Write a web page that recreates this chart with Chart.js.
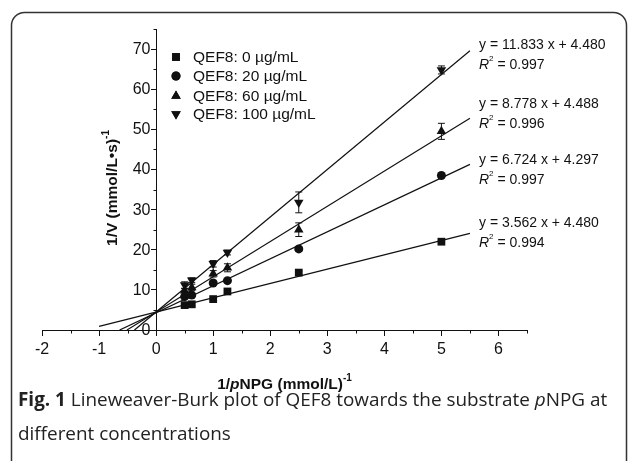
<!DOCTYPE html>
<html>
<head>
<meta charset="utf-8">
<script src="https://cdn.jsdelivr.net/npm/chart.js@4.4.0/dist/chart.umd.min.js"></script>
<style>
    html, body { margin: 0; padding: 0; background: #fff; }
    canvas { display: block; }
</style>
</head>
<body>
<canvas id="lbChart" width="628" height="461"></canvas>
<script>
const invSubstrate = [0.5, 0.625, 1, 1.25, 2.5, 5];

const seriesLabels = ["QEF8: 0 µg/mL", "QEF8: 20 µg/mL", "QEF8: 60 µg/mL", "QEF8: 100 µg/mL"];

const invV0 = [6.2, 6.4, 7.7, 9.6, 14.3, 22.0];
const invV20 = [8.3, 8.7, 11.7, 12.3, 20.2, 38.5];
const invV60 = [9.8, 10.6, 14.0, 15.5, 25.0, 49.5];
const invV100 = [11.2, 12.4, 16.5, 19.3, 31.8, 64.8];

const err0 = [0.3, 0.3, 0.3, 0.3, 0.4, 0.4];
const err20 = [0.4, 0.4, 0.5, 0.4, 0.5, 0.5];
const err60 = [0.5, 0.8, 0.8, 1.0, 1.7, 2.0];
const err100 = [0.8, 0.6, 0.8, 0.6, 2.6, 1.0];

// fitted lines (from the printed equations)
const slopes = [3.562, 6.724, 8.778, 11.833];
const intercepts = [4.480, 4.297, 4.488, 4.480];
const rSquared = ["0.994", "0.997", "0.996", "0.997"];
const fitStart = [-1, -0.64, -0.51, -0.38];
const fitEnd = 5.5;

const allV = [invV0, invV20, invV60, invV100];
const allErr = [err0, err20, err60, err100];
const markerStyles = ["rect", "circle", "triangle", "triangle"];
const markerRotation = [0, 0, 0, 180];
const markerRadius = [5.5, 4.5, 5.5, 5.5];

const SANS = "'Liberation Sans', Arial, sans-serif";
const INK = "#111";

function toPoints(ys) {
    return invSubstrate.map((x, i) => ({ x: x, y: ys[i] }));
}

function fitLine(i) {
    return [
        { x: fitStart[i], y: slopes[i] * fitStart[i] + intercepts[i] },
        { x: fitEnd, y: slopes[i] * fitEnd + intercepts[i] }
    ];
}

const datasets = [];
for (let i = 0; i < 4; i++) {
    datasets.push({
        type: "line",
        label: "fit " + i,
        data: fitLine(i),
        borderColor: INK,
        borderWidth: 1.2,
        pointRadius: 0,
        showLine: true,
        fill: false
    });
}
for (let i = 0; i < 4; i++) {
    datasets.push({
        type: "scatter",
        label: seriesLabels[i],
        data: toPoints(allV[i]),
        errors: allErr[i],
        pointStyle: markerStyles[i],
        rotation: markerRotation[i],
        radius: markerRadius[i],
        pointRadius: markerRadius[i],
        backgroundColor: INK,
        borderColor: INK,
        borderWidth: 0
    });
}

// draw text made of several runs (for italics / superscripts)
function runsWidth(ctx, runs) {
    let w = 0;
    runs.forEach(r => { ctx.font = r.font; w += ctx.measureText(r.text).width; });
    return w;
}
function drawRuns(ctx, runs, x, y, align) {
    let cx = x;
    if (align === "center") cx = x - runsWidth(ctx, runs) / 2;
    ctx.textAlign = "left";
    ctx.textBaseline = "alphabetic";
    runs.forEach(r => {
        ctx.font = r.font;
        ctx.fillText(r.text, cx, y + (r.dy || 0));
        cx += ctx.measureText(r.text).width;
    });
}

const errorBars = {
    id: "errorBars",
    afterDatasetsDraw(chart) {
        const ctx = chart.ctx;
        const ys = chart.scales.y;
        ctx.save();
        ctx.strokeStyle = INK;
        ctx.lineWidth = 1;
        chart.data.datasets.forEach((ds, di) => {
            if (!ds.errors) return;
            const meta = chart.getDatasetMeta(di);
            meta.data.forEach((pt, j) => {
                const v = ds.data[j].y;
                const top = ys.getPixelForValue(v + ds.errors[j]);
                const bot = ys.getPixelForValue(v - ds.errors[j]);
                ctx.beginPath();
                ctx.moveTo(pt.x, top); ctx.lineTo(pt.x, bot);
                ctx.moveTo(pt.x - 3.5, top); ctx.lineTo(pt.x + 3.5, top);
                ctx.moveTo(pt.x - 3.5, bot); ctx.lineTo(pt.x + 3.5, bot);
                ctx.stroke();
            });
        });
        ctx.restore();
    }
};

const decorations = {
    id: "decorations",
    afterDraw(chart) {
        const ctx = chart.ctx;
        const xs = chart.scales.x, ys = chart.scales.y;
        const area = chart.chartArea;
        ctx.save();

        // minor ticks
        ctx.strokeStyle = INK;
        ctx.lineWidth = 1;
        const x0 = Math.round(xs.getPixelForValue(0)) + 0.5;
        const y0 = Math.round(ys.getPixelForValue(0)) + 0.5;
        ctx.beginPath();
        for (let v = -1.5; v <= 6.5; v += 1) {
            const px = Math.round(xs.getPixelForValue(v)) + 0.5;
            ctx.moveTo(px, y0); ctx.lineTo(px, y0 + 3);
        }
        for (let v = 5; v <= 75; v += 10) {
            const py = Math.round(ys.getPixelForValue(v)) + 0.5;
            ctx.moveTo(x0, py); ctx.lineTo(x0 - 3, py);
        }
        ctx.stroke();

        // y tick labels, left of the crossing axis
        ctx.fillStyle = INK;
        ctx.font = "16px " + SANS;
        ctx.textAlign = "right";
        ctx.textBaseline = "middle";
        ys.ticks.forEach(t => {
            ctx.fillText(String(t.value), x0 - 6, ys.getPixelForValue(t.value) + 0.5);
        });

        // axis titles
        const tb = "bold 15.5px " + SANS;
        drawRuns(ctx, [
            { text: "1/", font: tb },
            { text: "p", font: "italic bold 15.5px " + SANS },
            { text: "NPG (mmol/L)", font: tb },
            { text: "-1", font: "bold 10px " + SANS, dy: -8 }
        ], (area.left + area.right) / 2, 389, "center");

        ctx.save();
        ctx.translate(117, 188);
        ctx.rotate(-Math.PI / 2);
        drawRuns(ctx, [
            { text: "1/V (mmol/L•s)", font: tb },
            { text: "-1", font: "bold 10px " + SANS, dy: -8 }
        ], 0, 0, "center");
        ctx.restore();

        // legend
        const legendY = [57, 76, 96, 114];
        for (let i = 0; i < 4; i++) {
            ctx.fillStyle = INK;
            Chart.helpers.drawPoint(ctx, {
                pointStyle: markerStyles[i],
                rotation: markerRotation[i],
                radius: markerRadius[i],
                borderWidth: 0
            }, 176, legendY[i]);
            ctx.fill();
            ctx.font = "15.5px " + SANS;
            ctx.textAlign = "left";
            ctx.textBaseline = "middle";
            ctx.fillText(seriesLabels[i], 193, legendY[i] + 0.5);
        }

        // equations
        const eqBase = [49, 108, 164, 227];
        const eqOrder = [3, 2, 1, 0];
        const f14 = "14px " + SANS;
        eqOrder.forEach((si, k) => {
            ctx.fillStyle = INK;
            drawRuns(ctx, [{ text: "y = " + slopes[si].toFixed(3) + " x + " + intercepts[si].toFixed(3), font: f14 }], 479, eqBase[k], "left");
            drawRuns(ctx, [
                { text: "R", font: "italic 14px " + SANS },
                { text: "2", font: "8px " + SANS, dy: -8 },
                { text: " = " + rSquared[si], font: f14 }
            ], 479, eqBase[k] + 19.5, "left");
        });

        // frame
        ctx.strokeStyle = "#333";
        ctx.lineWidth = 1.5;
        ctx.beginPath();
        ctx.roundRect(11.5, 12.5, 615, 480, 13);
        ctx.stroke();

        // caption
        ctx.fillStyle = "#222";
        const cap = "18.9px 'Open Sans', 'Noto Sans', sans-serif";
        drawRuns(ctx, [
            { text: "Fig. 1", font: "bold " + cap },
            { text: " Lineweaver-Burk plot of QEF8 towards the substrate ", font: cap },
            { text: "p", font: "italic " + cap },
            { text: "NPG at", font: cap }
        ], 18, 406, "left");
        drawRuns(ctx, [{ text: "different concentrations", font: cap }], 18, 440, "left");
        ctx.restore();
    }
};

new Chart(document.getElementById("lbChart"), {
    type: "scatter",
    data: { datasets: datasets },
    options: {
        responsive: false,
        animation: false,
        devicePixelRatio: 1,
        layout: { padding: { left: 42, right: 101, top: 29, bottom: 131 } },
        plugins: {
            legend: { display: false },
            tooltip: { enabled: false }
        },
        scales: {
            x: {
                type: "linear",
                min: -2,
                max: 6.5,
                position: { y: 0 },
                border: { display: true, color: INK, width: 1 },
                grid: { drawOnChartArea: false, drawTicks: true, tickLength: 5, tickColor: INK },
                ticks: {
                    stepSize: 1,
                    includeBounds: false,
                    autoSkip: false,
                    maxRotation: 0,
                    color: INK,
                    padding: 5,
                    font: { family: SANS, size: 16 }
                }
            },
            y: {
                type: "linear",
                min: 0,
                max: 75,
                position: { x: 0 },
                border: { display: true, color: INK, width: 1 },
                grid: { drawOnChartArea: false, drawTicks: true, tickLength: 5, tickColor: INK },
                ticks: {
                    stepSize: 10,
                    includeBounds: false,
                    display: false,
                    font: { family: SANS, size: 16 }
                }
            }
        }
    },
    plugins: [errorBars, decorations]
});
</script>
</body>
</html>
